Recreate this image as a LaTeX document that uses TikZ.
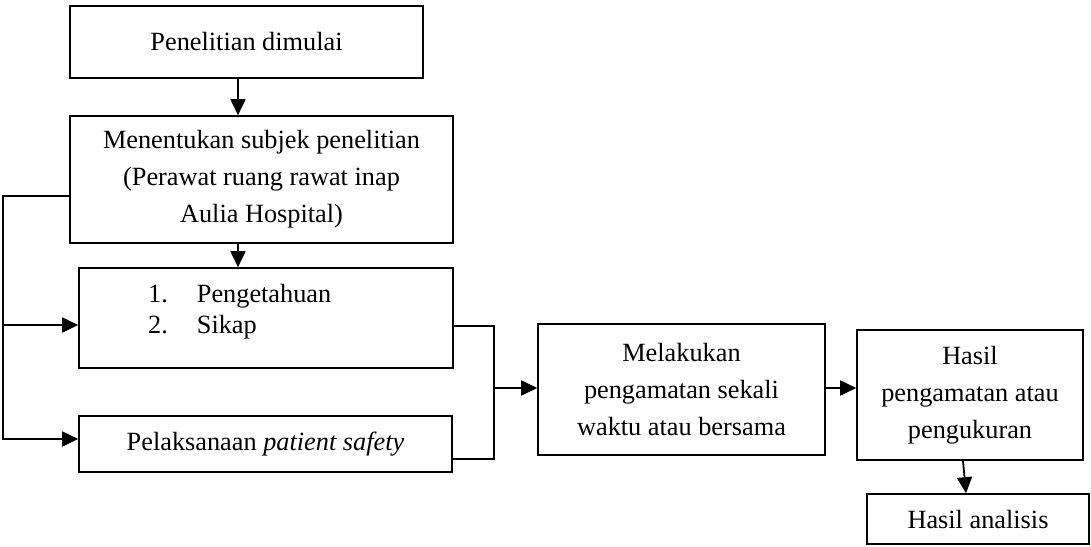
\documentclass[tikz,border=0pt]{standalone}
\usepackage{fontspec}
\setmainfont{Liberation Serif}
\usetikzlibrary{arrows.meta,calc}
\begin{document}
\begin{tikzpicture}[x=1pt,y=-1pt,
  box/.style={draw, line width=1.6pt, rectangle, inner sep=0pt, align=center, font=\fontsize{26.3}{37}\selectfont},
  txt/.style={inner sep=0pt, font=\fontsize{26.3}{31}\selectfont},
  ln/.style={line width=1.8pt},
  arr/.style={line width=1.8pt, -{Triangle[length=16pt,width=15pt]}}]
\useasboundingbox (0,0) rectangle (1091,546);
\node[box, minimum width=353pt, minimum height=72pt] (b1) at (246.5,42) {Penelitian dimulai};
\node[box, minimum width=383pt, minimum height=127pt] (b2) at (261.5,179.5) {Menentukan subjek penelitian\\(Perawat ruang rawat inap\\Aulia Hospital)};
\node[box, minimum width=374pt, minimum height=100pt] (b3) at (266,318) {};
\node[txt, anchor=base west] (b3t) at (148,302) {\begin{tabular}[t]{@{}l@{\hspace{29pt}}l@{}}1. & Pengetahuan\\2. & Sikap\end{tabular}};
\node[box, minimum width=373pt, minimum height=56pt] (b4) at (265.5,444) {Pelaksanaan \textit{patient safety}};
\node[box, minimum width=287pt, minimum height=131pt] (b5) at (681.5,389.5) {Melakukan\\pengamatan sekali\\waktu atau bersama};
\node[box, minimum width=226pt, minimum height=130pt] (b6) at (970,395) {Hasil\\pengamatan atau\\pengukuran};
\node[box, minimum width=222pt, minimum height=50pt] (b7) at (978,519) {Hasil analisis};
% vertical flow
\draw[arr] ([xshift=-8.5pt]b1.south) -- ([xshift=-8.5pt]b1.south |- b2.north);
\draw[arr] ([xshift=-23.5pt]b2.south) -- ([xshift=-23.5pt]b2.south |- b3.north);
% left branch
\coordinate (lt) at ($(b2.west)+(-66,16.5)$);
\coordinate (b3in) at ([yshift=-7pt]b3.west);
\coordinate (b4in) at ([yshift=5pt]b4.west);
\draw[arr] ([yshift=-16.5pt]b2.west) -- (lt) -- (b4in -| lt) -- (b4in);
\draw[arr] (b3in -| lt) -- (b3in);
% right bracket
\coordinate (b3out) at ([yshift=-8pt]b3.east);
\coordinate (b4out) at ([yshift=-15pt]b4.east);
\coordinate (rt) at ($(b3out)+(40,0)$);
\draw[ln] (b3out) -- (rt) -- (rt |- b4out) -- (b4out);
\coordinate (b5in) at ([yshift=1.5pt]b5.west);
\draw[arr] (rt |- b5in) -- (b5in);
\draw[arr] ([yshift=1.5pt]b5.east) -- ([yshift=1.5pt]b5.east -| b6.west);
\draw[arr] ([xshift=-7pt]b6.south) -- ([xshift=-12pt]b7.north);
\end{tikzpicture}
\end{document}
